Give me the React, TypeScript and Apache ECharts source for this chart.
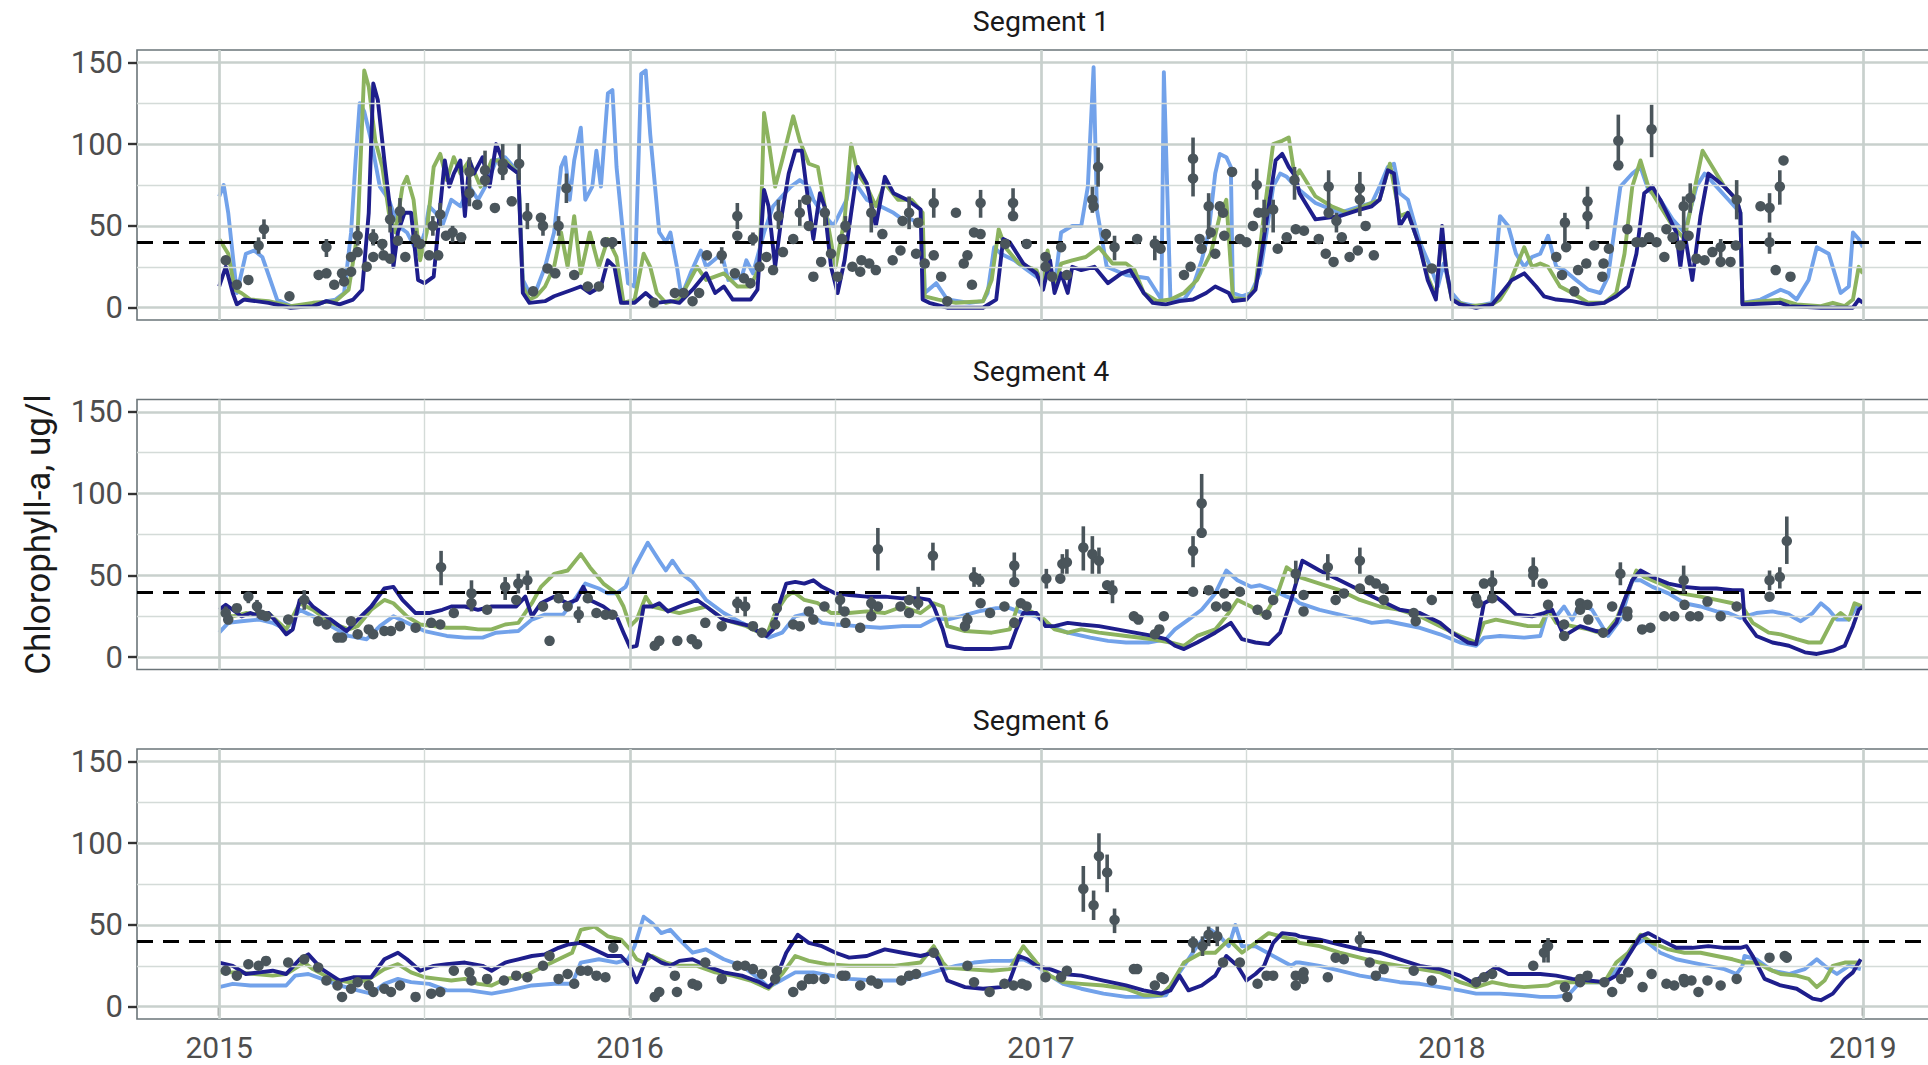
import React, { useEffect, useRef } from "react";
import * as echarts from "echarts";

// ---------- axes / labels ----------
const yearTicks = [2015, 2016, 2017, 2018, 2019];
const midYears = [2015.5, 2016.5, 2017.5, 2018.5];
const yMajor = [0, 50, 100, 150];
const yMinor = [25, 75, 125];
const threshold = 40;
const xRange = [2014.8, 2019.2];
const yRange = [-7.5, 157.5];
const segmentNames = ["Segment 1", "Segment 4", "Segment 6"];
const yTitle = "Chlorophyll-a, ug/l";

// ---------- Segment 1 ----------
const s1Blue: number[][] = [
  [2015.0,68],[2015.011,75],[2015.022,58],[2015.043,9],[2015.065,33],[2015.085,35],[2015.105,31],[2015.141,5],[2015.174,1],[2015.228,1],[2015.261,4],[2015.283,5],[2015.304,9],[2015.321,46],[2015.332,90],[2015.342,125],[2015.353,120],[2015.37,102],[2015.391,74],[2015.413,66],[2015.435,50],[2015.457,46],[2015.484,33],[2015.5,46],[2015.511,62],[2015.527,58],[2015.543,50],[2015.565,66],[2015.587,62],[2015.609,74],[2015.63,66],[2015.652,76],[2015.674,90],[2015.696,92],[2015.717,86],[2015.728,82],[2015.739,17],[2015.755,9],[2015.772,11],[2015.793,25],[2015.815,46],[2015.832,86],[2015.842,92],[2015.853,66],[2015.864,90],[2015.88,110],[2015.891,66],[2015.908,74],[2015.918,96],[2015.929,74],[2015.946,131],[2015.957,133],[2015.967,86],[2015.984,42],[2015.995,15],[2016.011,13],[2016.027,143],[2016.038,145],[2016.049,106],[2016.071,46],[2016.087,40],[2016.098,46],[2016.114,25],[2016.125,7],[2016.147,21],[2016.172,35],
  [2016.185,25],[2016.223,33],[2016.239,17],[2016.272,19],[2016.283,29],[2016.299,21],[2016.326,46],[2016.348,62],[2016.391,74],[2016.413,78],[2016.435,74],[2016.446,66],[2016.467,58],[2016.495,50],[2016.527,66],[2016.538,82],[2016.554,74],[2016.576,66],[2016.609,62],[2016.641,58],[2016.663,54],[2016.685,54],[2016.712,50],[2016.717,9],[2016.745,15],[2016.772,5],[2016.826,3],[2016.859,4],[2016.87,9],[2016.886,37],[2016.902,33],[2016.935,29],[2016.967,23],[2017.0,17],[2017.016,33],[2017.033,13],[2017.049,46],[2017.076,50],[2017.098,50],[2017.114,74],[2017.128,147],[2017.136,60],[2017.16,25],[2017.207,20],[2017.26,18],[2017.293,5],[2017.299,144],[2017.315,5],[2017.348,5],[2017.37,13],[2017.391,29],[2017.408,46],[2017.424,82],[2017.435,94],[2017.451,92],[2017.462,86],[2017.467,9],[2017.489,7],[2017.511,9],[2017.533,21],[2017.549,46],[2017.565,74],[2017.582,82],[2017.598,80],[2017.62,74],
  [2017.629,72],[2017.668,64],[2017.727,58],[2017.776,62],[2017.805,64],[2017.824,74],[2017.844,86],[2017.859,88],[2017.873,70],[2017.893,66],[2017.922,40],[2017.951,23],[2017.966,13],[2017.98,27],[2018.0,9],[2018.02,3],[2018.059,1],[2018.098,3],[2018.117,56],[2018.137,50],[2018.156,33],[2018.176,25],[2018.195,31],[2018.215,33],[2018.234,44],[2018.254,25],[2018.273,23],[2018.302,17],[2018.332,11],[2018.361,9],[2018.38,19],[2018.41,74],[2018.439,82],[2018.459,86],[2018.478,72],[2018.507,66],[2018.537,54],[2018.566,46],[2018.595,74],[2018.615,82],[2018.644,74],[2018.673,66],[2018.702,58],[2018.707,3],[2018.751,5],[2018.8,11],[2018.82,9],[2018.839,5],[2018.868,17],[2018.888,37],[2018.917,33],[2018.946,9],[2018.966,13],[2018.976,46],[2018.99,42],[2019.0,37]
];
const s1Green: number[][] = [
  [2015.0,42],[2015.022,33],[2015.038,11],[2015.054,9],[2015.076,5],[2015.12,4],[2015.174,1],[2015.228,3],[2015.283,4],[2015.315,11],[2015.337,46],[2015.353,145],[2015.364,135],[2015.38,102],[2015.397,86],[2015.413,58],[2015.429,46],[2015.446,74],[2015.457,80],[2015.473,66],[2015.489,29],[2015.505,46],[2015.522,86],[2015.538,94],[2015.554,78],[2015.571,92],[2015.587,82],[2015.609,90],[2015.636,74],[2015.663,90],[2015.696,90],[2015.728,82],[2015.739,13],[2015.755,5],[2015.772,7],[2015.793,13],[2015.815,25],[2015.832,46],[2015.848,25],[2015.864,56],[2015.88,21],[2015.902,46],[2015.924,25],[2015.946,42],[2015.967,31],[2015.984,3],[2016.011,5],[2016.033,33],[2016.049,25],[2016.065,9],[2016.087,3],[2016.12,5],
  [2016.163,25],[2016.185,17],[2016.228,21],[2016.261,13],[2016.293,13],[2016.315,25],[2016.326,119],[2016.337,102],[2016.353,74],[2016.37,90],[2016.397,117],[2016.413,102],[2016.435,88],[2016.457,86],[2016.478,56],[2016.5,25],[2016.522,54],[2016.538,100],[2016.554,82],[2016.576,74],[2016.598,62],[2016.62,76],[2016.652,66],[2016.685,66],[2016.712,58],[2016.717,7],[2016.75,5],[2016.793,3],[2016.859,4],[2016.88,17],[2016.897,48],[2016.913,37],[2016.946,27],[2016.989,23],[2017.005,13],[2017.016,35],[2017.033,11],[2017.049,27],[2017.076,29],[2017.109,31],[2017.141,37],[2017.174,27],[2017.207,27],[2017.228,23],[2017.25,9],[2017.283,4],[2017.315,5],[2017.348,9],[2017.38,17],[2017.413,33],[2017.435,56],[2017.451,66],[2017.467,6],[2017.5,5],[2017.522,13],[2017.543,58],[2017.565,100],[2017.587,102],[2017.603,104],[2017.614,86],[2017.62,80],
  [2017.629,84],[2017.668,68],[2017.707,62],[2017.746,58],[2017.785,62],[2017.824,66],[2017.849,88],[2017.873,56],[2017.893,58],[2017.922,37],[2017.941,19],[2017.961,7],[2017.976,46],[2017.99,17],[2018.0,5],[2018.039,1],[2018.098,2],[2018.117,5],[2018.137,13],[2018.176,37],[2018.195,25],[2018.215,27],[2018.234,25],[2018.263,13],[2018.293,9],[2018.332,3],[2018.371,3],[2018.4,9],[2018.42,33],[2018.439,74],[2018.459,90],[2018.478,74],[2018.507,62],[2018.537,50],[2018.566,42],[2018.595,78],[2018.61,96],[2018.634,86],[2018.663,74],[2018.693,66],[2018.702,58],[2018.707,3],[2018.8,5],[2018.839,2],[2018.898,1],[2018.927,3],[2018.956,1],[2018.976,5],[2018.99,25],[2019.0,21]
];
const s1Navy: number[][] = [
  [2015.0,13],[2015.016,25],[2015.033,9],[2015.043,2],[2015.06,5],[2015.12,3],[2015.174,0],[2015.228,1],[2015.261,4],[2015.293,2],[2015.326,5],[2015.348,11],[2015.364,58],[2015.375,137],[2015.386,127],[2015.402,90],[2015.418,56],[2015.424,25],[2015.435,46],[2015.451,58],[2015.467,58],[2015.484,17],[2015.5,15],[2015.522,19],[2015.538,62],[2015.549,90],[2015.56,74],[2015.571,82],[2015.587,90],[2015.598,56],[2015.609,90],[2015.62,82],[2015.641,92],[2015.658,74],[2015.674,100],[2015.69,90],[2015.707,86],[2015.728,82],[2015.739,9],[2015.755,3],[2015.793,4],[2015.815,7],[2015.837,9],[2015.859,11],[2015.88,13],[2015.902,9],[2015.929,13],[2015.946,29],[2015.962,25],[2015.978,3],[2016.011,3],[2016.038,9],[2016.065,3],[2016.098,4],[2016.12,3],
  [2016.152,11],[2016.185,21],[2016.207,9],[2016.228,13],[2016.25,5],[2016.293,5],[2016.31,11],[2016.326,72],[2016.337,62],[2016.353,25],[2016.37,58],[2016.386,82],[2016.402,96],[2016.418,96],[2016.429,74],[2016.446,42],[2016.462,70],[2016.473,62],[2016.489,25],[2016.505,9],[2016.522,29],[2016.538,58],[2016.554,86],[2016.576,76],[2016.598,50],[2016.62,80],[2016.641,70],[2016.674,66],[2016.707,60],[2016.712,5],[2016.728,3],[2016.772,0],[2016.859,0],[2016.891,5],[2016.908,42],[2016.924,40],[2016.957,27],[2016.989,21],[2017.005,11],[2017.022,29],[2017.033,9],[2017.049,21],[2017.065,9],[2017.076,25],[2017.098,23],[2017.13,25],[2017.163,15],[2017.196,21],[2017.217,23],[2017.25,9],[2017.272,3],[2017.304,2],[2017.337,4],[2017.37,5],[2017.402,9],[2017.424,13],[2017.457,9],[2017.467,4],[2017.5,5],[2017.522,11],[2017.538,35],[2017.554,62],[2017.571,90],[2017.587,94],[2017.603,86],[2017.62,80],
  [2017.629,70],[2017.668,54],[2017.727,56],[2017.776,60],[2017.805,62],[2017.824,66],[2017.844,84],[2017.859,82],[2017.873,50],[2017.893,58],[2017.922,37],[2017.941,17],[2017.961,5],[2017.976,50],[2017.985,25],[2018.0,5],[2018.02,2],[2018.059,0],[2018.098,2],[2018.127,11],[2018.146,17],[2018.176,21],[2018.205,13],[2018.224,7],[2018.254,5],[2018.293,4],[2018.332,2],[2018.371,3],[2018.4,7],[2018.429,13],[2018.449,33],[2018.468,70],[2018.488,74],[2018.507,66],[2018.527,56],[2018.546,46],[2018.556,25],[2018.566,46],[2018.585,17],[2018.605,56],[2018.624,82],[2018.644,78],[2018.663,74],[2018.693,66],[2018.702,58],[2018.707,2],[2018.8,3],[2018.82,1],[2018.898,0],[2018.976,0],[2018.99,5],[2019.0,3]
];
// observations: [year, value] or [year, value, low, high]
const s1Obs: number[][] = [
  [2015.016,29],[2015.043,14],[2015.071,17],[2015.096,38,33,43],[2015.109,48,42,54],[2015.171,7],[2015.242,20],[2015.261,21],[2015.261,37,31,42],[2015.28,14],[2015.299,21],[2015.304,16],[2015.321,31],[2015.321,22],[2015.337,44,38,50],[2015.337,34],[2015.359,25],[2015.375,43,38,48],[2015.375,31],[2015.397,39,35,42],[2015.4,32],[2015.416,54,46,62],[2015.416,30],[2015.435,41],[2015.44,59,52,67],[2015.453,31],[2015.478,42,37,47],[2015.489,39],[2015.511,32],[2015.52,50,44,56],[2015.533,32],[2015.538,57,50,64],[2015.552,44],[2015.568,46,40,50],[2015.589,43],[2015.609,70,62,78],[2015.609,83,74,92],[2015.628,63],[2015.647,84,74,96],[2015.647,78],[2015.671,61],[2015.69,88,78,100],[2015.69,84],[2015.712,65],[2015.73,88,78,100],[2015.75,56,48,64],[2015.764,10],[2015.783,55],[2015.788,50,44,56],[2015.799,24],[2015.818,21],[2015.826,50,44,56],[2015.845,73,64,82],[2015.864,20],[2015.897,13],[2015.924,13],[2015.94,40],[2015.957,40,36,43],[2016.058,3],[2016.109,9],[2016.13,9],[2016.152,4],[2016.168,9],
  [2016.187,32],[2016.223,32,27,37],[2016.255,21],[2016.261,56,48,64],[2016.261,44],[2016.277,18],[2016.293,15],[2016.299,42,38,46],[2016.315,25],[2016.332,31],[2016.348,23],[2016.361,56,48,66],[2016.372,34],[2016.397,42],[2016.413,58,50,66],[2016.429,66],[2016.435,50],[2016.446,19],[2016.465,28],[2016.474,58,50,62],[2016.489,33],[2016.505,19],[2016.516,42],[2016.524,50,46,56],[2016.541,25],[2016.56,22],[2016.563,29],[2016.582,27],[2016.587,58,46,64],[2016.598,23],[2016.614,45],[2016.639,29],[2016.658,35],[2016.663,53],[2016.679,58,48,68],[2016.696,33],[2016.701,52],[2016.717,27],[2016.739,32],[2016.739,64,55,73],[2016.757,19],[2016.772,4],[2016.793,58],[2016.812,27],[2016.821,32],[2016.832,14],[2016.837,46],[2016.853,64,55,72],[2016.853,45],[2016.913,39],[2016.932,64,56,73],[2016.932,56],[2016.965,39],[2017.011,31],[2017.011,25],[2017.027,19],[2017.049,37],[2017.063,20],[2017.125,66,58,74],[2017.128,62],[2017.139,86,74,98],[2017.158,45,40,48],[2017.179,37,29,44],[2017.234,42],[2017.277,39,29,44],[2017.291,36],[2017.348,20],[2017.364,25],[2017.37,91,68,104],[2017.37,79],[2017.386,42],[2017.391,36],[2017.408,62,42,70],[2017.413,46],[2017.424,33],[2017.435,62],[2017.443,58],[2017.446,44],[2017.465,83],[2017.484,42],[2017.5,40],[2017.516,50],[2017.525,75,66,85],[2017.529,58],[2017.543,58,46,66],[2017.565,60,46,66],[2017.576,36],[2017.598,43],[2017.617,78,66,86],[2017.62,48],
  [2017.64,47],[2017.676,42],[2017.693,33],[2017.7,74,58,84],[2017.7,58],[2017.712,28],[2017.719,53,46,58],[2017.732,43],[2017.751,31],[2017.771,35],[2017.776,73,56,83],[2017.776,66],[2017.79,50],[2017.81,32],[2017.951,24],[2018.254,31],[2018.268,20],[2018.275,52,35,58],[2018.278,37],[2018.298,10],[2018.307,23],[2018.327,27],[2018.33,65,48,74],[2018.33,56],[2018.346,38],[2018.366,19],[2018.369,27],[2018.382,36],[2018.405,102,87,118],[2018.405,87],[2018.427,48],[2018.449,40],[2018.463,40],[2018.48,43],[2018.486,109,92,124],[2018.498,40],[2018.517,31],[2018.522,48],[2018.537,43],[2018.556,38],[2018.564,62,46,68],[2018.576,44],[2018.58,67,58,76],[2018.595,30],[2018.615,29],[2018.634,34],[2018.654,37,29,42],[2018.654,28],[2018.678,28],[2018.691,38],[2018.693,66,54,78],[2018.751,62],[2018.773,61,52,70],[2018.773,40,33,46],[2018.788,23],[2018.798,74,63,84],[2018.807,90],[2018.824,19]
];

// ---------- Segment 4 ----------
const s4Blue: number[][] = [
  [2015.0,15],[2015.022,21],[2015.054,22],[2015.098,23],[2015.13,21],[2015.163,17],[2015.196,29],[2015.228,25],[2015.272,19],[2015.315,13],[2015.359,11],[2015.391,19],[2015.424,25],[2015.457,21],[2015.5,16],[2015.554,13],[2015.598,12],[2015.641,12],[2015.674,15],[2015.728,16],[2015.761,23],[2015.793,26],[2015.837,26],[2015.87,37],[2015.891,45],[2015.924,42],[2015.946,39],[2015.967,39],[2015.989,43],[2016.011,55],[2016.043,70],[2016.071,59],[2016.087,53],[2016.103,59],[2016.125,51],[2016.152,46],
  [2016.185,35],[2016.228,27],[2016.272,21],[2016.304,17],[2016.337,12],[2016.37,15],[2016.402,25],[2016.435,27],[2016.467,21],[2016.5,20],[2016.554,19],[2016.609,18],[2016.663,19],[2016.707,19],[2016.745,24],[2016.772,23],[2016.804,25],[2016.848,28],[2016.891,30],[2016.924,30],[2016.957,27],[2016.989,25],[2017.022,19],[2017.065,15],[2017.12,12],[2017.163,10],[2017.207,9],[2017.261,9],[2017.304,11],[2017.326,17],[2017.359,23],[2017.391,29],[2017.424,39],[2017.451,53],[2017.478,47],[2017.511,43],[2017.533,44],[2017.565,41],[2017.598,37],[2017.62,35],
  [2017.629,33],[2017.678,29],[2017.727,26],[2017.776,23],[2017.805,21],[2017.844,22],[2017.883,20],[2017.922,18],[2017.971,14],[2018.02,9],[2018.059,7],[2018.078,12],[2018.117,13],[2018.176,12],[2018.215,13],[2018.234,29],[2018.254,25],[2018.273,31],[2018.293,23],[2018.312,33],[2018.341,29],[2018.38,13],[2018.41,23],[2018.439,47],[2018.459,47],[2018.488,43],[2018.527,39],[2018.566,33],[2018.605,31],[2018.644,28],[2018.673,27],[2018.702,24],[2018.741,27],[2018.78,28],[2018.82,26],[2018.849,22],[2018.878,27],[2018.898,33],[2018.917,29],[2018.937,23],[2018.966,23],[2018.985,31],[2019.0,31]
];
const s4Green: number[][] = [
  [2015.0,27],[2015.033,25],[2015.065,27],[2015.098,26],[2015.12,27],[2015.163,17],[2015.196,33],[2015.228,29],[2015.272,21],[2015.315,17],[2015.337,19],[2015.37,29],[2015.402,35],[2015.424,33],[2015.457,25],[2015.489,20],[2015.522,19],[2015.554,18],[2015.598,18],[2015.63,17],[2015.663,17],[2015.696,20],[2015.728,21],[2015.761,33],[2015.783,43],[2015.815,51],[2015.848,53],[2015.88,63],[2015.902,55],[2015.935,45],[2015.967,39],[2015.984,31],[2016.0,19],[2016.016,23],[2016.038,37],[2016.054,31],[2016.087,29],[2016.12,27],
  [2016.185,31],[2016.228,23],[2016.283,19],[2016.332,13],[2016.353,27],[2016.38,37],[2016.397,40],[2016.424,35],[2016.457,33],[2016.489,27],[2016.533,27],[2016.576,28],[2016.62,27],[2016.663,31],[2016.707,27],[2016.739,33],[2016.761,31],[2016.772,19],[2016.815,16],[2016.88,15],[2016.924,17],[2016.946,33],[2016.967,29],[2017.0,25],[2017.033,17],[2017.065,15],[2017.098,17],[2017.141,15],[2017.207,13],[2017.272,11],[2017.315,9],[2017.348,7],[2017.38,13],[2017.424,17],[2017.457,27],[2017.478,35],[2017.511,31],[2017.543,25],[2017.576,39],[2017.598,55],[2017.62,51],
  [2017.629,49],[2017.678,45],[2017.727,41],[2017.776,35],[2017.824,31],[2017.873,29],[2017.922,25],[2017.971,19],[2018.02,13],[2018.059,9],[2018.078,21],[2018.107,23],[2018.146,21],[2018.185,19],[2018.215,19],[2018.234,29],[2018.254,21],[2018.293,19],[2018.332,17],[2018.371,14],[2018.4,23],[2018.42,35],[2018.449,53],[2018.468,49],[2018.507,45],[2018.556,39],[2018.605,37],[2018.644,35],[2018.683,33],[2018.707,31],[2018.732,21],[2018.771,15],[2018.8,14],[2018.839,11],[2018.868,9],[2018.898,9],[2018.927,23],[2018.946,27],[2018.966,23],[2018.98,33],[2019.0,31]
];
const s4Navy: number[][] = [
  [2015.0,29],[2015.016,32],[2015.033,29],[2015.054,25],[2015.076,27],[2015.098,25],[2015.12,27],[2015.141,21],[2015.163,14],[2015.179,17],[2015.196,35],[2015.207,37],[2015.228,31],[2015.261,25],[2015.293,19],[2015.31,16],[2015.337,23],[2015.37,31],[2015.402,42],[2015.424,43],[2015.446,35],[2015.478,27],[2015.511,27],[2015.543,29],[2015.565,31],[2015.598,31],[2015.63,29],[2015.663,31],[2015.696,31],[2015.723,31],[2015.745,37],[2015.761,25],[2015.783,33],[2015.815,37],[2015.848,33],[2015.87,35],[2015.886,43],[2015.902,35],[2015.935,31],[2015.967,25],[2015.984,15],[2016.0,6],[2016.016,7],[2016.033,31],[2016.054,31],[2016.071,33],[2016.092,28],[2016.12,31],
  [2016.163,35],[2016.185,31],[2016.228,23],[2016.261,21],[2016.293,19],[2016.315,15],[2016.332,13],[2016.348,17],[2016.364,33],[2016.38,45],[2016.402,46],[2016.424,45],[2016.446,47],[2016.467,43],[2016.5,39],[2016.533,38],[2016.576,37],[2016.62,37],[2016.663,36],[2016.707,36],[2016.728,35],[2016.739,31],[2016.761,17],[2016.772,7],[2016.815,5],[2016.88,5],[2016.924,6],[2016.94,17],[2016.957,27],[2016.989,27],[2017.011,19],[2017.033,19],[2017.065,21],[2017.098,20],[2017.141,19],[2017.185,17],[2017.228,15],[2017.272,13],[2017.304,11],[2017.326,7],[2017.348,5],[2017.38,9],[2017.424,15],[2017.462,21],[2017.489,11],[2017.522,9],[2017.554,8],[2017.582,15],[2017.609,35],[2017.636,59],
  [2017.678,53],[2017.727,47],[2017.776,41],[2017.824,35],[2017.873,29],[2017.922,27],[2017.971,21],[2018.0,15],[2018.02,12],[2018.039,9],[2018.059,8],[2018.078,33],[2018.107,37],[2018.127,33],[2018.156,26],[2018.195,25],[2018.224,27],[2018.244,29],[2018.273,13],[2018.312,19],[2018.351,16],[2018.38,15],[2018.4,21],[2018.42,35],[2018.439,47],[2018.459,53],[2018.488,49],[2018.527,45],[2018.566,43],[2018.605,42],[2018.644,42],[2018.683,41],[2018.707,41],[2018.712,23],[2018.741,13],[2018.78,9],[2018.82,7],[2018.859,3],[2018.888,2],[2018.927,4],[2018.956,7],[2018.976,19],[2018.99,29],[2019.0,31]
];
const s4Obs: number[][] = [
  [2015.016,27,22,31],[2015.022,23],[2015.043,30],[2015.071,37,33,40],[2015.092,31,27,35],[2015.103,26],[2015.114,25],[2015.168,23],[2015.207,35,29,41],[2015.241,22],[2015.261,20],[2015.288,12],[2015.299,12],[2015.321,22],[2015.337,14],[2015.364,17],[2015.375,14],[2015.402,16],[2015.418,16],[2015.44,19],[2015.478,18],[2015.516,21],[2015.538,20],[2015.54,55,44,65],[2015.571,27],[2015.614,33,28,39],[2015.614,39,31,47],[2015.652,29],[2015.696,43,35,49],[2015.723,35],[2015.728,45,39,51],[2015.75,47,41,53],[2015.788,31],[2015.804,10],[2015.826,36],[2015.848,31],[2015.875,26,21,31],[2015.897,36],[2015.918,27],[2015.94,26],[2015.957,26],[2016.06,7],[2016.071,10],[2016.115,10],[2016.15,11],[2016.163,8],
  [2016.183,21],[2016.223,19],[2016.261,33,27,37],[2016.28,31,25,37],[2016.299,19],[2016.321,15],[2016.353,20],[2016.357,30],[2016.397,20],[2016.413,19],[2016.435,28],[2016.446,23],[2016.473,31],[2016.511,35,27,39],[2016.522,28],[2016.524,21],[2016.56,18],[2016.587,33,25,37],[2016.587,25],[2016.603,31],[2016.603,66,53,79],[2016.658,31],[2016.679,35],[2016.679,27],[2016.701,33,29,43],[2016.737,62,53,70],[2016.815,19],[2016.821,23,17,27],[2016.837,49,43,55],[2016.85,47,43,51],[2016.853,33],[2016.876,27],[2016.911,31],[2016.935,56,47,64],[2016.935,46],[2016.935,21],[2016.951,33],[2016.965,31],[2017.013,48,42,54],[2017.047,48],[2017.052,57,51,63],[2017.063,58,51,66],[2017.103,67,53,80],[2017.125,63,51,74],[2017.141,59,51,67],[2017.161,44],[2017.174,41,33,47],[2017.226,25],[2017.237,23],[2017.277,14],[2017.288,17],[2017.299,25],[2017.37,65,55,74],[2017.37,40],[2017.391,94,76,112],[2017.391,76],[2017.408,41],[2017.426,31],[2017.446,39],[2017.451,31],[2017.484,40],[2017.527,29],[2017.549,26],[2017.565,35],[2017.62,51,45,59],
  [2017.639,38],[2017.639,28],[2017.698,55,47,63],[2017.717,35],[2017.737,39],[2017.776,59,51,67],[2017.776,42],[2017.8,47],[2017.815,45],[2017.834,42],[2017.834,35],[2017.907,27],[2017.912,22],[2017.951,35],[2018.059,36],[2018.063,33],[2018.078,45],[2018.098,46,39,53],[2018.098,36],[2018.198,53,43,61],[2018.198,50],[2018.221,45],[2018.234,32],[2018.273,20],[2018.273,13],[2018.312,33],[2018.312,29],[2018.33,32],[2018.332,23],[2018.368,15],[2018.39,31],[2018.41,51,44,58],[2018.427,28],[2018.427,25],[2018.463,17],[2018.483,18],[2018.517,25],[2018.541,25],[2018.564,47,39,56],[2018.566,32],[2018.58,25],[2018.6,25],[2018.622,34],[2018.654,25],[2018.693,31],[2018.773,47,41,53],[2018.773,37],[2018.798,49,42,55],[2018.815,71,57,86]
];

// ---------- Segment 6 ----------
const s6Blue: number[][] = [
  [2015.0,12],[2015.033,14],[2015.076,13],[2015.12,13],[2015.163,13],[2015.185,19],[2015.217,20],[2015.25,17],[2015.293,13],[2015.337,10],[2015.37,8],[2015.402,14],[2015.435,17],[2015.467,15],[2015.511,14],[2015.554,10],[2015.609,10],[2015.663,8],[2015.707,10],[2015.761,13],[2015.815,14],[2015.859,14],[2015.88,27],[2015.924,29],[2015.967,27],[2015.995,29],[2016.011,37],[2016.033,55],[2016.054,51],[2016.076,45],[2016.098,47],[2016.12,41],
  [2016.152,33],[2016.185,35],[2016.228,29],[2016.272,25],[2016.315,17],[2016.337,12],[2016.359,15],[2016.402,21],[2016.446,21],[2016.489,19],[2016.533,17],[2016.598,16],[2016.663,16],[2016.707,19],[2016.75,22],[2016.793,25],[2016.837,27],[2016.88,28],[2016.924,28],[2016.957,29],[2016.989,25],[2017.022,19],[2017.054,14],[2017.098,11],[2017.152,8],[2017.207,6],[2017.261,6],[2017.304,7],[2017.326,17],[2017.348,25],[2017.38,37],[2017.413,47],[2017.435,43],[2017.457,37],[2017.473,50],[2017.489,37],[2017.522,37],[2017.565,31],[2017.609,25],[2017.62,27],
  [2017.629,27],[2017.678,25],[2017.727,22],[2017.776,19],[2017.824,17],[2017.873,15],[2017.922,14],[2017.971,12],[2018.02,10],[2018.059,8],[2018.117,8],[2018.176,7],[2018.215,6],[2018.254,6],[2018.283,7],[2018.312,15],[2018.371,15],[2018.41,25],[2018.439,37],[2018.468,41],[2018.507,33],[2018.546,29],[2018.585,27],[2018.624,25],[2018.663,23],[2018.693,20],[2018.707,25],[2018.712,31],[2018.741,29],[2018.78,22],[2018.82,20],[2018.859,23],[2018.888,29],[2018.907,25],[2018.937,20],[2018.966,25],[2018.995,23]
];
const s6Green: number[][] = [
  [2015.0,21],[2015.043,21],[2015.087,20],[2015.13,19],[2015.163,20],[2015.207,27],[2015.228,23],[2015.272,17],[2015.315,15],[2015.359,16],[2015.402,23],[2015.435,26],[2015.467,21],[2015.5,18],[2015.533,17],[2015.565,16],[2015.598,17],[2015.63,14],[2015.663,13],[2015.696,17],[2015.728,18],[2015.761,21],[2015.793,25],[2015.826,29],[2015.859,33],[2015.88,47],[2015.913,49],[2015.946,43],[2015.978,41],[2016.0,35],[2016.016,29],[2016.033,27],[2016.054,31],[2016.087,27],[2016.12,25],
  [2016.163,25],[2016.207,21],[2016.25,19],[2016.293,16],[2016.337,11],[2016.37,20],[2016.402,31],[2016.435,28],[2016.478,26],[2016.533,25],[2016.587,25],[2016.641,25],[2016.707,27],[2016.739,37],[2016.761,27],[2016.772,24],[2016.815,23],[2016.88,22],[2016.924,23],[2016.957,37],[2016.989,27],[2017.022,19],[2017.054,15],[2017.098,14],[2017.152,13],[2017.207,11],[2017.25,7],[2017.293,7],[2017.315,13],[2017.348,27],[2017.391,33],[2017.424,33],[2017.457,41],[2017.489,33],[2017.522,39],[2017.554,45],[2017.598,42],[2017.62,41],
  [2017.629,39],[2017.678,37],[2017.727,33],[2017.776,30],[2017.824,27],[2017.873,25],[2017.922,23],[2017.971,21],[2018.02,15],[2018.059,12],[2018.098,15],[2018.137,13],[2018.176,12],[2018.234,13],[2018.254,15],[2018.312,15],[2018.371,15],[2018.4,27],[2018.429,33],[2018.459,44],[2018.488,39],[2018.527,35],[2018.566,33],[2018.605,33],[2018.644,31],[2018.683,29],[2018.712,27],[2018.741,27],[2018.771,23],[2018.8,20],[2018.839,19],[2018.868,17],[2018.888,12],[2018.907,16],[2018.927,25],[2018.956,27],[2018.985,27],[2018.995,27]
];
const s6Navy: number[][] = [
  [2015.0,27],[2015.033,25],[2015.065,20],[2015.098,21],[2015.13,22],[2015.163,20],[2015.196,29],[2015.217,32],[2015.25,23],[2015.293,16],[2015.326,18],[2015.37,18],[2015.402,29],[2015.435,33],[2015.457,29],[2015.489,22],[2015.522,25],[2015.554,26],[2015.598,27],[2015.641,25],[2015.663,22],[2015.696,27],[2015.728,29],[2015.761,31],[2015.793,32],[2015.826,36],[2015.848,38],[2015.88,39],[2015.913,35],[2015.946,31],[2015.978,31],[2016.0,25],[2016.016,15],[2016.033,25],[2016.043,32],[2016.076,27],[2016.098,25],[2016.12,28],
  [2016.152,29],[2016.185,25],[2016.228,21],[2016.272,19],[2016.315,15],[2016.337,12],[2016.353,16],[2016.38,33],[2016.408,44],[2016.435,39],[2016.467,37],[2016.5,33],[2016.533,30],[2016.576,31],[2016.62,35],[2016.663,33],[2016.707,31],[2016.739,33],[2016.75,29],[2016.772,16],[2016.815,12],[2016.859,11],[2016.902,12],[2016.924,16],[2016.946,31],[2016.967,29],[2016.989,25],[2017.022,23],[2017.054,20],[2017.098,19],[2017.152,16],[2017.207,13],[2017.25,10],[2017.293,8],[2017.315,10],[2017.337,19],[2017.359,10],[2017.391,13],[2017.424,19],[2017.451,31],[2017.478,25],[2017.5,16],[2017.522,20],[2017.543,25],[2017.565,39],[2017.587,45],[2017.62,44],
  [2017.629,43],[2017.678,41],[2017.727,38],[2017.776,35],[2017.824,33],[2017.873,29],[2017.922,25],[2017.971,23],[2018.02,19],[2018.049,15],[2018.078,19],[2018.107,24],[2018.137,20],[2018.176,20],[2018.215,20],[2018.254,19],[2018.293,17],[2018.332,16],[2018.371,15],[2018.4,19],[2018.429,31],[2018.459,43],[2018.478,45],[2018.507,41],[2018.546,36],[2018.585,36],[2018.624,37],[2018.663,36],[2018.702,36],[2018.717,37],[2018.732,31],[2018.761,17],[2018.8,13],[2018.839,11],[2018.878,5],[2018.898,4],[2018.927,8],[2018.956,17],[2018.976,21],[2018.995,29]
];
const s6Obs: number[][] = [
  [2015.016,22],[2015.043,19],[2015.071,26],[2015.096,25],[2015.114,28],[2015.168,27],[2015.207,29],[2015.241,24],[2015.261,16],[2015.288,13],[2015.299,6],[2015.321,11],[2015.337,15],[2015.364,13],[2015.375,9],[2015.402,11],[2015.418,9],[2015.44,13],[2015.478,6],[2015.516,8],[2015.538,9],[2015.571,22],[2015.609,21],[2015.614,16],[2015.652,17],[2015.693,16],[2015.723,19],[2015.75,18],[2015.788,25],[2015.804,31],[2015.826,17],[2015.848,20],[2015.864,14],[2015.88,22],[2015.897,22],[2015.918,19],[2015.94,18],[2015.959,36],[2016.06,6],[2016.071,9],[2016.109,19],[2016.114,9],[2016.152,14],
  [2016.163,13],[2016.183,27],[2016.223,17],[2016.261,25],[2016.28,25],[2016.299,23],[2016.321,20],[2016.353,17],[2016.357,22],[2016.397,9],[2016.418,13],[2016.435,17],[2016.446,17],[2016.473,17],[2016.516,19],[2016.524,19],[2016.56,13],[2016.587,16],[2016.603,14],[2016.66,16],[2016.679,19],[2016.696,20],[2016.739,33],[2016.821,25],[2016.837,15],[2016.875,9],[2016.911,14],[2016.933,13],[2016.954,14],[2016.965,13],[2017.011,18],[2017.049,18],[2017.063,22],[2017.103,72,58,86],[2017.128,62,53,71],[2017.141,92,78,106],[2017.161,82,70,93],[2017.179,53,45,60],[2017.226,23],[2017.234,23],[2017.277,13],[2017.293,18],[2017.299,17],[2017.37,39,33,43],[2017.393,37,31,43],[2017.408,44,37,49],[2017.429,43,37,49],[2017.443,27],[2017.484,27],[2017.527,14],[2017.549,19],[2017.565,19],[2017.62,19],[2017.62,13],
  [2017.639,21],[2017.639,17],[2017.698,18],[2017.717,30],[2017.737,29],[2017.776,41,36,46],[2017.8,27],[2017.815,19],[2017.834,23],[2017.907,22],[2017.951,16],[2018.059,15],[2018.078,18],[2018.098,20],[2018.198,25],[2018.224,33,27,38],[2018.234,37,27,42],[2018.275,12],[2018.281,6],[2018.312,15],[2018.312,17],[2018.33,19],[2018.371,15],[2018.39,9],[2018.412,17],[2018.429,21],[2018.464,12],[2018.486,20],[2018.522,14],[2018.541,13],[2018.564,17],[2018.566,15],[2018.583,16],[2018.6,9],[2018.622,16],[2018.654,13],[2018.693,17],[2018.773,30],[2018.81,31],[2018.815,30]
];

// ---------- styling ----------
const FONT = 'Roboto, "Liberation Sans", Arial, sans-serif';
const NAVY = "#1e1e8c";
const GREEN = "#8cb35f";
const BLUE = "#72a2ea";
const POINT = "#4a555b";
const GRID_MAJOR = "#c8d0cd";
const GRID_MINOR = "#d4dbd8";
const BORDER = "#6b7579";

const panels = [
  { name: segmentNames[0], blue: s1Blue, green: s1Green, navy: s1Navy, obs: s1Obs },
  { name: segmentNames[1], blue: s4Blue, green: s4Green, navy: s4Navy, obs: s4Obs },
  { name: segmentNames[2], blue: s6Blue, green: s6Green, navy: s6Navy, obs: s6Obs },
];
const CHART_WIDTH = 1970; // wider than the window: the panels run past the right edge
const GRID_LEFT = 137;
const GRID_WIDTH = 1808;
const GRID_HEIGHT = 270;
const GRID_TOPS = [50, 399.5, 749];

function buildOption(): any {
  const grid: any[] = [];
  const xAxis: any[] = [];
  const yAxis: any[] = [];
  const series: any[] = [];
  const graphic: any[] = [];

  panels.forEach((p, i) => {
    const last = i === panels.length - 1;
    grid.push({
      left: GRID_LEFT, top: GRID_TOPS[i], width: GRID_WIDTH, height: GRID_HEIGHT,
      show: true, borderColor: BORDER, borderWidth: 1.6, backgroundColor: "transparent",
    });
    xAxis.push({
      type: "value", gridIndex: i, min: xRange[0], max: xRange[1],
      axisLine: { show: false }, splitLine: { show: false },
      axisTick: { show: last, customValues: yearTicks, length: 9, lineStyle: { color: "#333333", width: 2.4 } },
      axisLabel: {
        show: last, customValues: yearTicks, margin: 13,
        formatter: (v: number) => String(Math.round(v)),
        fontSize: 30, lineHeight: 30, color: "#4d4d4d", fontFamily: FONT,
      },
    });
    yAxis.push({
      type: "value", gridIndex: i, min: yRange[0], max: yRange[1],
      axisLine: { show: false }, splitLine: { show: false },
      axisTick: { show: true, customValues: yMajor, length: 9, lineStyle: { color: "#333333", width: 2.4 } },
      axisLabel: {
        show: true, customValues: yMajor, margin: 14,
        formatter: (v: number) => String(Math.round(v)),
        fontSize: 31, color: "#4d4d4d", fontFamily: FONT,
      },
    });

    const major = { color: GRID_MAJOR, width: 2.7, type: "solid" };
    const minor = { color: GRID_MINOR, width: 1.4, type: "solid" };
    series.push({
      type: "line", xAxisIndex: i, yAxisIndex: i, data: [], z: 1, silent: true,
      markLine: {
        silent: true, symbol: ["none", "none"], label: { show: false }, animation: false,
        emphasis: { disabled: true },
        data: [
          ...midYears.map((v) => ({ xAxis: v, lineStyle: minor })),
          ...yMinor.map((v) => ({ yAxis: v, lineStyle: minor })),
          ...yearTicks.map((v) => ({ xAxis: v, lineStyle: major })),
          ...yMajor.map((v) => ({ yAxis: v, lineStyle: major })),
        ],
      },
    });

    const lineSeries = (data: number[][], color: string) => ({
      type: "line", xAxisIndex: i, yAxisIndex: i, data, showSymbol: false, symbol: "none",
      lineStyle: { color, width: 3.9, join: "round" }, itemStyle: { color }, z: 3, silent: true,
    });
    series.push(lineSeries(p.blue, BLUE));
    series.push(lineSeries(p.green, GREEN));
    series.push(lineSeries(p.navy, NAVY));

    series.push({
      type: "line", xAxisIndex: i, yAxisIndex: i, data: [], z: 4, silent: true,
      markLine: {
        silent: true, symbol: ["none", "none"], label: { show: false }, animation: false,
        emphasis: { disabled: true },
        lineStyle: { color: "#000000", width: 3, type: [16, 10] },
        data: [{ yAxis: threshold }],
      },
    });

    series.push({
      type: "custom", xAxisIndex: i, yAxisIndex: i, z: 5, silent: true,
      data: p.obs.filter((o) => o.length > 2).map((o) => [o[0], o[2], o[3]]),
      encode: { x: 0, y: [1, 2] },
      renderItem: (params: any, api: any) => {
        const a = api.coord([api.value(0), api.value(1)]);
        const b = api.coord([api.value(0), api.value(2)]);
        return {
          type: "line",
          shape: { x1: a[0], y1: a[1], x2: b[0], y2: b[1] },
          style: { stroke: POINT, lineWidth: 3.6 },
        };
      },
    });
    series.push({
      type: "scatter", xAxisIndex: i, yAxisIndex: i, z: 6, silent: true,
      data: p.obs.map((o) => [o[0], o[1]]),
      symbolSize: 10.5, itemStyle: { color: POINT, opacity: 1 },
    });

    graphic.push({
      type: "text", x: GRID_LEFT + GRID_WIDTH / 2, y: GRID_TOPS[i] - 28.5,
      style: {
        text: p.name, fontSize: 28.5, fontFamily: FONT, fill: "#1a1a1a",
        textAlign: "center", textVerticalAlign: "middle",
      },
    });
  });

  graphic.push({
    type: "text", x: 38, y: GRID_TOPS[1] + GRID_HEIGHT / 2, rotation: Math.PI / 2,
    style: {
      text: yTitle, fontSize: 35, fontFamily: FONT, fill: "#1a1a1a",
      textAlign: "center", textVerticalAlign: "middle",
    },
  });

  return {
    animation: false,
    backgroundColor: "#ffffff",
    grid, xAxis, yAxis, series, graphic,
  };
}

export default function App() {
  const ref = useRef<HTMLDivElement>(null);
  useEffect(() => {
    document.body.style.margin = "0";
    document.body.style.overflow = "hidden";
    document.documentElement.style.overflow = "hidden";
    const chart = echarts.init(ref.current as HTMLDivElement, null, { renderer: "svg" });
    chart.setOption(buildOption());
    return () => chart.dispose();
  }, []);
  return <div ref={ref} style={{ width: CHART_WIDTH, height: 1065 }} />;
}
